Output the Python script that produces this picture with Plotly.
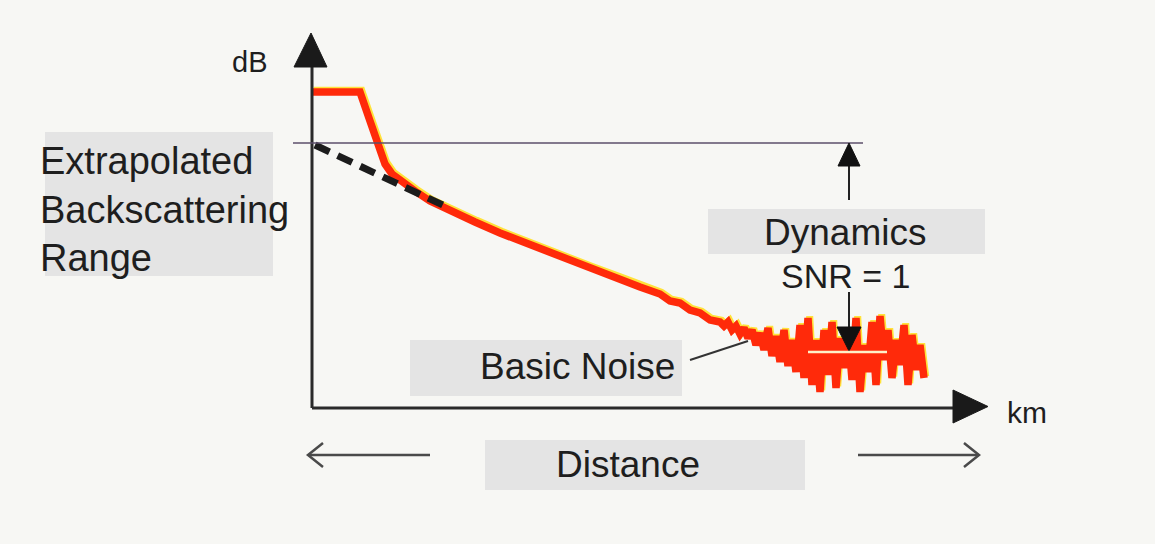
import plotly.graph_objects as go

# ---- data (distance in km, level in dB) ----
trace_km = [0.0, 4.8, 5.8, 6.6, 7.3, 8.0, 8.9, 10.3, 11.8, 13.8, 16.3, 18.8, 21.8, 24.8,
            27.8, 30.8, 32.8, 34.8, 35.8, 36.8, 37.8, 38.8, 39.8]
trace_db = [31.6, 31.6, 28.7, 26.2, 24.4, 23.4, 22.7, 21.7, 20.7, 19.7, 18.6, 17.5, 16.3, 15.1,
            14.0, 12.9, 12.1, 11.4, 10.7, 10.5, 9.8, 9.5, 8.8]
noise_km = [40.8, 41.2, 41.6, 42.0, 42.4, 42.8, 43.2, 43.6, 44.0, 44.4, 44.8, 45.2, 45.6,
            46.0, 46.4, 46.8, 47.2, 47.6, 48.0, 48.4, 48.8, 49.2, 49.6, 50.0, 50.4, 50.8,
            51.2, 51.6, 52.0, 52.4, 52.8, 53.2, 53.6, 54.0, 54.4, 54.8, 55.2, 55.6, 56.0,
            56.4, 56.8, 57.2, 57.6, 58.0, 58.4, 58.8, 59.2, 59.6, 60.0, 60.4, 60.8, 61.2]
noise_db = [8.6, 8.2, 8.6, 7.8, 8.2, 7.4, 8.0, 7.0, 7.8, 6.3, 7.5, 5.8, 8.0,
            5.2, 7.2, 4.6, 7.8, 4.2, 6.8, 3.6, 8.3, 3.0, 9.0, 2.3, 6.8, 1.6,
            7.8, 3.3, 8.6, 2.0, 7.0, 4.0, 7.8, 2.8, 9.0, 1.6, 6.3, 3.6, 8.6,
            2.3, 9.2, 4.8, 7.8, 3.0, 6.8, 4.3, 8.3, 2.3, 7.3, 3.8, 6.3, 3.0]
extrap_km = [0.3, 13.5]
extrap_db = [26.3, 20.1]
dynamic_level_db = 26.5
noise_level_db = 5.6

FONT = "Liberation Sans, Arial, Helvetica, sans-serif"
TXT = "#1e1e1e"
BOX = "#e4e4e4"
BG = "#f7f7f4"
X_RANGE = [-31.2, 84.3]
Y_RANGE = [-13.6, 40.8]
HALO_SHIFT = 0.17

all_km = trace_km + noise_km
all_db = trace_db + noise_db

fig = go.Figure()
# yellow edge on the base axes (ranges shifted so it sits up/right of the red line)
fig.add_trace(go.Scatter(x=all_km, y=all_db, mode="lines", xaxis="x", yaxis="y",
                         line=dict(color="#ffe23a", width=7), hoverinfo="skip"))
# red trace + extrapolation on the overlay axes with true ranges
fig.add_trace(go.Scatter(x=all_km, y=all_db, mode="lines", xaxis="x2", yaxis="y2",
                         line=dict(color="#ff2a0a", width=7.5), hoverinfo="skip"))
fig.add_trace(go.Scatter(x=extrap_km, y=extrap_db, mode="lines", xaxis="x2", yaxis="y2",
                         line=dict(color="#1c1c1c", width=7, dash="16px,9px"), hoverinfo="skip"))

shapes = []
def rect(x0, x1, y0, y1):
    shapes.append(dict(type="rect", xref="x2", yref="y2", x0=x0, x1=x1, y0=y0, y1=y1,
                       fillcolor=BOX, line=dict(width=0), layer="below"))
def line(x0, y0, x1, y1, color, width, layer="above"):
    shapes.append(dict(type="line", xref="x2", yref="y2", x0=x0, y0=y0, x1=x1, y1=y1,
                       line=dict(color=color, width=width), layer=layer))
def tri(path, color):
    shapes.append(dict(type="path", xref="x2", yref="y2", path=path,
                       fillcolor=color, line=dict(color=color, width=1)))

# label boxes
rect(-26.7, -3.9, 13.2, 27.6)
rect(39.6, 67.3, 15.4, 19.9)
rect(9.8, 37.0, 1.2, 6.8)
rect(17.3, 49.3, -8.2, -3.2)

# axes
line(0, 0, 64.5, 0, "#2a2a2a", 3)
line(0, 0, 0, 34.5, "#2a2a2a", 3)
tri("M 64.1,1.8 L 64.1,-1.5 L 67.6,0.15 Z", "#1a1a1a")
tri("M -1.8,34.1 L 1.5,34.1 L -0.1,37.5 Z", "#1a1a1a")

# dynamic level line
line(-1.9, dynamic_level_db, 55.1, dynamic_level_db, "#5d4f6b", 1.5)
# up arrow
line(53.7, 20.8, 53.7, 24.5, "#222", 2)
tri("M 52.6,24.2 L 54.8,24.2 L 53.7,26.5 Z", "#111")
# down arrow
line(53.7, 11.6, 53.7, 7.9, "#222", 2)
tri("M 52.5,8.1 L 54.9,8.1 L 53.7,5.7 Z", "#111")
# noise level line
line(49.6, noise_level_db, 57.5, noise_level_db, "#fff0c8", 2.5)
# leader for Basic Noise
line(37.8, 4.8, 43.6, 6.7, "#333", 2, layer="below")

# distance arrows
line(11.8, -4.7, -0.3, -4.7, "#4a4a4a", 2.5)
shapes.append(dict(type="path", xref="x2", yref="y2", path="M 1.1,-3.5 L -0.4,-4.7 L 1.1,-5.9",
                   line=dict(color="#4a4a4a", width=2.5)))
line(54.6, -4.7, 66.5, -4.7, "#4a4a4a", 2.5)
shapes.append(dict(type="path", xref="x2", yref="y2", path="M 65.2,-3.5 L 66.7,-4.7 L 65.2,-5.9",
                   line=dict(color="#4a4a4a", width=2.5)))

def ann(text, x, y, size, xanchor="center"):
    return dict(text=text, x=x, y=y, xref="x2", yref="y2", showarrow=False,
                xanchor=xanchor, yanchor="middle",
                font=dict(family=FONT, size=size, color=TXT))

annotations = [
    ann("dB", -6.3, 34.6, 29),
    ann("km", 71.5, -0.4, 30),
    ann("Extrapolated", -27.4, 24.7, 38, "left"),
    ann("Backscattering", -27.4, 19.8, 38, "left"),
    ann("Range", -27.4, 15.0, 38, "left"),
    ann("Dynamics", 53.3, 17.6, 37),
    ann("SNR = 1", 53.3, 13.2, 34),
    ann("Basic Noise", 26.5, 4.2, 37),
    ann("Distance", 31.6, -5.6, 37),
]

fig.update_layout(
    width=1155, height=544,
    margin=dict(l=0, r=0, t=0, b=0),
    paper_bgcolor=BG, plot_bgcolor=BG,
    showlegend=False,
    xaxis=dict(range=[X_RANGE[0] - HALO_SHIFT, X_RANGE[1] - HALO_SHIFT],
               visible=False, fixedrange=True),
    yaxis=dict(range=[Y_RANGE[0] - HALO_SHIFT, Y_RANGE[1] - HALO_SHIFT],
               visible=False, fixedrange=True),
    xaxis2=dict(range=X_RANGE, overlaying="x", visible=False, fixedrange=True),
    yaxis2=dict(range=Y_RANGE, overlaying="y", visible=False, fixedrange=True),
    shapes=shapes,
    annotations=annotations,
)

fig.write_html("out.html", config={"displayModeBar": False},
               post_script="document.body.style.margin='0px';document.body.style.background='%s';" % BG)
